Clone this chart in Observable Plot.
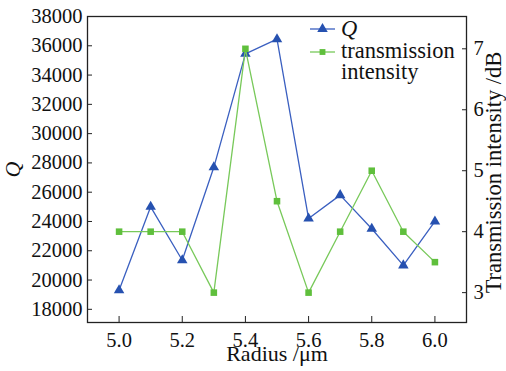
<!DOCTYPE html>
<html><head><meta charset="utf-8">
<script src="https://cdn.jsdelivr.net/npm/d3@7"></script>
<script src="https://cdn.jsdelivr.net/npm/@observablehq/plot@0.6"></script>
<style>
body{margin:0;background:#fff;}
#wrap{position:relative;width:506px;height:371px;}
#wrap > svg{position:absolute;left:0;top:0;}
#wrap svg, #wrap svg text{font-family:"Liberation Serif","DejaVu Serif",serif !important;}
</style></head><body><div id="wrap"></div>
<script>
const radius = [5.0, 5.1, 5.2, 5.3, 5.4, 5.5, 5.6, 5.7, 5.8, 5.9, 6.0];
const qValues = [19300, 25000, 21350, 27700, 35450, 36450, 24200, 25800, 23500, 21000, 24000];
const transmission = [4, 4, 4, 3, 7, 4.5, 3, 4, 5, 4, 3.5];
const xTicks = [5.0, 5.2, 5.4, 5.6, 5.8, 6.0];
const qTicks = [18000, 20000, 22000, 24000, 26000, 28000, 30000, 32000, 34000, 36000, 38000];
const tTicks = [3, 4, 5, 6, 7];
const seriesNames = ["Q", "transmission\nintensity"];

const blue = "#2651b0", blueLine = "#3a5fc0";
const green = "#5fbf3c", greenLine = "#78c95a";
const W = 506, H = 371;
const common = {
  width: W, height: H, marginLeft: 87, marginRight: 40, marginTop: 16, marginBottom: 49,
  style: {fontSize: "20.5px", color: "#111", background: "transparent", overflow: "visible"}
};
const qData = radius.map((r, i) => ({r, v: qValues[i]}));
const tData = radius.map((r, i) => ({r, v: transmission[i]}));

const p1 = Plot.plot({
  ...common,
  x: {domain: [4.9, 6.1]},
  y: {domain: [17100, 38000]},
  marks: [
    Plot.axisX(xTicks, {tickSize: -6, tickPadding: 16, tickFormat: d => d.toFixed(1), label: null, stroke: "#222"}),
    Plot.axisY(qTicks, {tickSize: -5, tickPadding: 10, tickFormat: d => String(d), label: null, stroke: "#222"}),
    Plot.text(["Radius /μm"], {frameAnchor: "bottom", textAnchor: "middle", dy: 38, fontSize: 22, fill: "#111"}),
    Plot.text(["Q"], {frameAnchor: "left", textAnchor: "middle", dx: -75, rotate: -90, fontSize: 22, fontStyle: "italic", fill: "#111"}),
    Plot.line(qData, {x: "r", y: "v", stroke: blueLine, strokeWidth: 1.3}),
    Plot.dot(qData, {x: "r", y: "v", symbol: "triangle", fill: blue, r: 3.9})
  ]
});
const p2 = Plot.plot({
  ...common,
  x: {domain: [4.9, 6.1], axis: null},
  y: {domain: [2.51, 7.53]},
  marks: [
    Plot.axisY(tTicks, {anchor: "right", tickSize: -5, tickPadding: 12, tickFormat: d => String(d), label: null, stroke: "#222"}),
    Plot.text(["Transmission intensity /dB"], {frameAnchor: "right", textAnchor: "middle", dx: 27, dy: 3, rotate: -90, fontSize: 22.5, fill: "#111"}),
    Plot.line(tData, {x: "r", y: "v", stroke: greenLine, strokeWidth: 1.3}),
    Plot.dot(tData, {x: "r", y: "v", symbol: "square", fill: green, r: 3.7}),
    Plot.frame({stroke: "#222", strokeWidth: 1.3})
  ]
});
const wrap = document.getElementById("wrap");
wrap.appendChild(p1);
wrap.appendChild(p2);

// legend
const lg = d3.create("svg").attr("width", W).attr("height", H)
  .style("position", "absolute").style("left", 0).style("top", 0)
  .style("font-size", "22.5px");
const entries = [
  {y: 29, color: blueLine, fill: blue, sym: d3.symbolTriangle, size: Math.PI * 3.9 * 3.9, name: seriesNames[0], italic: true, baseline: 36},
  {y: 52, color: greenLine, fill: green, sym: d3.symbolSquare, size: Math.PI * 3.3 * 3.3, name: seriesNames[1], italic: false, baseline: 58}
];
for (const e of entries) {
  lg.append("line").attr("x1", 310).attr("x2", 335).attr("y1", e.y).attr("y2", e.y).attr("stroke", e.color).attr("stroke-width", 1.3);
  lg.append("path").attr("d", d3.symbol(e.sym, e.size)()).attr("transform", `translate(322.5,${e.y})`).attr("fill", e.fill);
  const lines = e.name.split("\n");
  lines.forEach((t, k) => {
    lg.append("text").attr("x", 341).attr("y", e.baseline + k * 20.5).attr("fill", "#111")
      .style("font-style", e.italic ? "italic" : "normal").text(t);
  });
}
wrap.appendChild(lg.node());
</script></body></html>
